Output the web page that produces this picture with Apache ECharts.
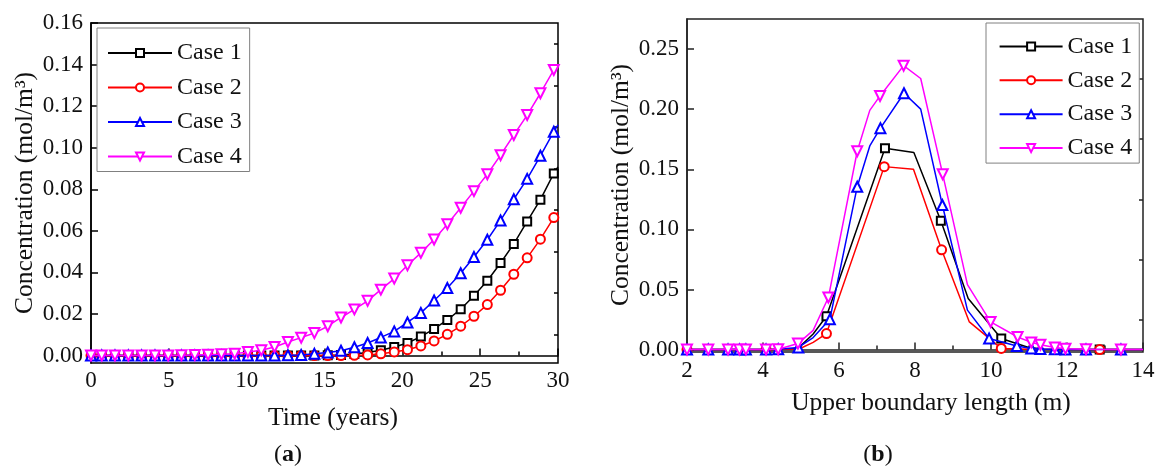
<!DOCTYPE html>
<html><head><meta charset="utf-8">
<script src="https://cdn.jsdelivr.net/npm/echarts@6/dist/echarts.min.js"></script>
<style>html,body{margin:0;padding:0;background:#fff}#c{width:1158px;height:469px}</style>
</head><body><div id="c"></div>
<script>
// ---------- DATA ----------
const caseNames = ['Case 1', 'Case 2', 'Case 3', 'Case 4'];

// Panel (a): concentration vs time
const timeYears = [0, 0.69, 1.54, 2.40, 3.25, 4.11, 4.96, 5.81, 6.67, 7.52, 8.38, 9.23, 10.08, 10.94, 11.79, 12.65, 13.50, 14.35, 15.21, 16.06, 16.92, 17.77, 18.62, 19.48, 20.33, 21.19, 22.04, 22.89, 23.75, 24.60, 25.46, 26.31, 27.16, 28.02, 28.87, 29.73, 30.0];
const a_case1 = [0,0,0,0,0,0,0,0,0,0,0,0,0,0,0,0,0,0, 0.0001,0.0003,0.0007,0.0014,0.0025,0.0041,0.0060,0.0091,0.0128,0.0171,0.0223,0.0288,0.0360,0.0445,0.0537,0.0645,0.0750,0.0876,0.0908];
const a_case2 = [0,0,0,0,0,0,0,0,0,0,0,0,0,0,0,0,0,0,0,0, 0.0001,0.0003,0.0008,0.0017,0.0028,0.0046,0.0070,0.0102,0.0141,0.0189,0.0245,0.0314,0.0391,0.0470,0.0560,0.0664,0.0690];
const a_case3 = [0,0,0,0,0,0,0,0,0,0,0,0,0,0,0, 0.0001,0.0003,0.0008,0.0015,0.0023,0.0040,0.0060,0.0087,0.0116,0.0159,0.0205,0.0265,0.0325,0.0396,0.0474,0.0557,0.0650,0.0752,0.0850,0.0961,0.1077,0.1110];
const a_case4 = [0,0,0,0,0,0,0, 0.0001,0.0002,0.0004,0.0006,0.0009,0.0017,0.0025,0.0041,0.0065,0.0086,0.0108,0.0141,0.0183,0.0222,0.0263,0.0317,0.0370,0.0434,0.0494,0.0558,0.0632,0.0711,0.0791,0.0872,0.0964,0.1061,0.1157,0.1262,0.1374,0.1398];
// marker drawn at a sample (1) or not (0)
const a_marked = [1,1,1,1,1,1,1,1,1,1,1,1,1,1,1,1,1,1,1,1,1,1,1,1,1,1,1,1,1,1,1,1,1,1,1,1,0];
const a_xTicks = [0, 5, 10, 15, 20, 25, 30];
const a_yTicks = [0, 0.02, 0.04, 0.06, 0.08, 0.10, 0.12, 0.14, 0.16];
const a_yMinor = [0.01, 0.03, 0.05, 0.07, 0.09, 0.11, 0.13, 0.15];

// Panel (b): concentration along upper boundary
const b_case1_x = [2.0, 2.56, 3.08, 3.55, 4.08, 4.40, 4.92, 5.32, 5.67, 7.21, 7.97, 8.68, 9.40, 10.27, 10.97, 11.40, 12.86, 14.0];
const b_case1_y = [0, 0, 0, 0, 0, 0, 0.0010, 0.0130, 0.0277, 0.1675, 0.1640, 0.1072, 0.0425, 0.0092, 0.0020, 0.0003, 0, 0];
const b_case1_m = [1, 0, 0, 0, 1, 0, 0, 0, 1, 1, 0, 1, 0, 1, 0, 0, 1, 0];

const b_case2_x = [2.0, 3.08, 4.08, 4.95, 5.32, 5.67, 7.19, 7.96, 8.70, 9.43, 10.27, 11.00, 12.86, 14.0];
const b_case2_y = [0, 0, 0, 0.0005, 0.0060, 0.0133, 0.1522, 0.1500, 0.0830, 0.0230, 0.0010, 0.0002, 0, 0];
const b_case2_m = [1, 0, 1, 0, 0, 1, 1, 0, 1, 0, 1, 0, 1, 0];

const b_case3_x = [2.0, 2.56, 3.08, 3.38, 3.55, 4.08, 4.40, 4.93, 5.32, 5.76, 6.48, 6.81, 7.09, 7.71, 8.15, 8.72, 9.38, 9.95, 10.68, 11.06, 11.30, 11.68, 11.96, 12.50, 13.42, 14.0];
const b_case3_y = [0, 0, 0, 0, 0, 0, 0.0002, 0.0018, 0.0100, 0.0253, 0.1355, 0.1694, 0.1842, 0.2132, 0.2000, 0.1203, 0.0328, 0.0092, 0.0030, 0.0010, 0.0005, 0.0002, 0, 0, 0, 0];
const b_case3_m = [1, 1, 1, 1, 1, 1, 1, 1, 0, 1, 1, 0, 1, 1, 0, 1, 0, 1, 1, 1, 1, 1, 1, 1, 1, 0];

const b_case4_x = [2.0, 2.56, 3.08, 3.38, 3.55, 4.08, 4.40, 4.92, 5.32, 5.72, 6.48, 6.81, 7.08, 7.70, 8.15, 8.73, 9.38, 9.99, 10.70, 11.06, 11.30, 11.68, 11.96, 12.50, 13.42, 14.0];
const b_case4_y = [0, 0, 0, 0, 0, 0, 0.0003, 0.0050, 0.0160, 0.0433, 0.1650, 0.1990, 0.2110, 0.2362, 0.2255, 0.1458, 0.0540, 0.0230, 0.0105, 0.0060, 0.0040, 0.0018, 0.0008, 0.0002, 0, 0];
const b_case4_m = [1, 1, 1, 1, 1, 1, 1, 1, 0, 1, 1, 0, 1, 1, 0, 1, 0, 1, 1, 1, 1, 1, 1, 1, 1, 0];

const b_xTicks = [2, 4, 6, 8, 10, 12, 14];
const b_yTicks = [0, 0.05, 0.10, 0.15, 0.20, 0.25];
const b_yMinor = [0.025, 0.075, 0.125, 0.175, 0.225];

// ---------- STYLE ----------
const F = "'Liberation Serif', 'Times New Roman', serif";
const styles = [
  { color: '#000000', symbol: 'emptyRect', rotate: 0, size: 8 },
  { color: '#ff0000', symbol: 'emptyCircle', rotate: 0, size: 9 },
  { color: '#0000ff', symbol: 'emptyTriangle', rotate: 0, size: 10 },
  { color: '#ff00ff', symbol: 'emptyTriangle', rotate: 180, size: 10 }
];

function mkData(xs, ys, marks) {
  return xs.map((x, i) => marks[i] ? [x, ys[i]] : { value: [x, ys[i]], symbol: 'none' });
}
function mkSeries(k, xi, yi, data) {
  const s = styles[k];
  return {
    type: 'line', name: caseNames[k], xAxisIndex: xi, yAxisIndex: yi,
    data: data, symbol: s.symbol, symbolRotate: s.rotate, symbolSize: s.size,
    showAllSymbol: true, clip: true,
    lineStyle: { color: s.color, width: 1.5 },
    itemStyle: { color: s.color, borderColor: s.color, borderWidth: 1.2 },
    emphasis: { disabled: true }, z: 2 + k
  };
}

const aY = [a_case1, a_case2, a_case3, a_case4];
const bX = [b_case1_x, b_case2_x, b_case3_x, b_case4_x];
const bY = [b_case1_y, b_case2_y, b_case3_y, b_case4_y];
const bM = [b_case1_m, b_case2_m, b_case3_m, b_case4_m];

const series = [];
for (let k = 0; k < 4; k++) series.push(mkSeries(k, 0, 0, mkData(timeYears, aY[k], a_marked)));
for (let k = 0; k < 4; k++) series.push(mkSeries(k, 1, 1, mkData(bX[k], bY[k], bM[k])));

const labelStyle = { fontFamily: F, fontSize: 23, color: '#111' };
const lineAx = (c) => ({ show: true, lineStyle: { color: c, width: 1.5 } });

const legendBase = {
  data: caseNames, orient: 'vertical', selectedMode: false,
  itemHeight: 10, borderColor: '#808080', borderWidth: 1, backgroundColor: '#fff',
  textStyle: { fontFamily: F, fontSize: 24, lineHeight: 24, color: '#111' }
};

const titleStyle = { fontFamily: F, fontSize: 25.5, fill: '#111', textAlign: 'center', textVerticalAlign: 'middle' };
const capRich = { n: { fontFamily: F, fontSize: 24, fill: '#111' }, b: { fontFamily: F, fontSize: 24, fontWeight: 'bold', fill: '#111' } };

const option = {
  animation: false,
  backgroundColor: '#fff',
  grid: [
    { left: 91, top: 23, width: 467, height: 340, show: true, borderColor: '#000', borderWidth: 1.5, backgroundColor: 'transparent', containLabel: false },
    { left: 687, top: 19, width: 456, height: 333, show: true, borderColor: '#222', borderWidth: 1.5, backgroundColor: 'transparent', containLabel: false }
  ],
  xAxis: [
    { gridIndex: 0, type: 'value', min: 0, max: 30, interval: 5,
      axisLine: lineAx('#000'), splitLine: { show: false },
      axisTick: { inside: true, length: 7, lineStyle: { color: '#000', width: 1.5 } },
      minorTick: { show: true, splitNumber: 2, length: 4, lineStyle: { color: '#000', width: 1.5 } },
      axisLabel: Object.assign({ margin: 6, formatter: v => String(v), customValues: a_xTicks }, labelStyle) },
    { gridIndex: 1, type: 'value', min: 2, max: 14, interval: 2,
      axisLine: lineAx('#222'), splitLine: { show: false },
      axisTick: { inside: true, length: 7, lineStyle: { color: '#222', width: 1.5 } },
      minorTick: { show: true, splitNumber: 2, length: 4, lineStyle: { color: '#222', width: 1.5 } },
      axisLabel: Object.assign({ margin: 7, formatter: v => String(v), customValues: b_xTicks }, labelStyle) }
  ],
  yAxis: [
    { gridIndex: 0, type: 'value', min: -0.0036, max: 0.16,
      axisLine: lineAx('#000'), splitLine: { show: false },
      axisTick: { inside: true, length: 7, customValues: a_yTicks, lineStyle: { color: '#000', width: 1.5 } },
      axisLabel: Object.assign({ margin: 8, customValues: a_yTicks, formatter: v => v.toFixed(2) }, labelStyle) },
    { gridIndex: 1, type: 'value', min: -0.002, max: 0.275,
      axisLine: lineAx('#222'), splitLine: { show: false },
      axisTick: { inside: true, length: 7, customValues: b_yTicks, lineStyle: { color: '#222', width: 1.5 } },
      axisLabel: Object.assign({ margin: 8, customValues: b_yTicks, formatter: v => v.toFixed(2) }, labelStyle) },
    { gridIndex: 0, type: 'value', min: -0.0036, max: 0.16,
      axisLine: { show: false }, splitLine: { show: false }, axisLabel: { show: false },
      axisTick: { inside: true, length: 4, customValues: a_yMinor, lineStyle: { color: '#000', width: 1.5 } } },
    { gridIndex: 1, type: 'value', min: -0.002, max: 0.275,
      axisLine: { show: false }, splitLine: { show: false }, axisLabel: { show: false },
      axisTick: { inside: true, length: 4, customValues: b_yMinor, lineStyle: { color: '#222', width: 1.5 } } }
  ],
  legend: [
    Object.assign({}, legendBase, { left: 97, top: 28, itemWidth: 64, itemGap: 10.5, padding: [13, 8, 3, 10] }),
    Object.assign({}, legendBase, { left: 986, top: 23, itemWidth: 63, itemGap: 9.9, padding: [11.4, 7, 3, 12.6] })
  ],
  graphic: [
    { type: 'text', x: 333, y: 418, style: Object.assign({ text: 'Time (years)' }, titleStyle) },
    { type: 'text', x: 931, y: 403, style: Object.assign({ text: 'Upper boundary length (m)' }, titleStyle) },
    { type: 'text', x: 25, y: 193, rotation: Math.PI / 2, style: Object.assign({ text: 'Concentration (mol/m³)' }, titleStyle) },
    { type: 'text', x: 621, y: 185, rotation: Math.PI / 2, style: Object.assign({ text: 'Concentration (mol/m³)' }, titleStyle) },
    { type: 'text', x: 288, y: 455, style: { text: '{n|(}{b|a}{n|)}', textAlign: 'center', textVerticalAlign: 'middle', rich: capRich } },
    { type: 'text', x: 878, y: 455, style: { text: '{n|(}{b|b}{n|)}', textAlign: 'center', textVerticalAlign: 'middle', rich: capRich } }
  ],
  series: series
};

const chart = echarts.init(document.getElementById('c'), null, { renderer: 'canvas' });
chart.setOption(option);
</script>
</body></html>
